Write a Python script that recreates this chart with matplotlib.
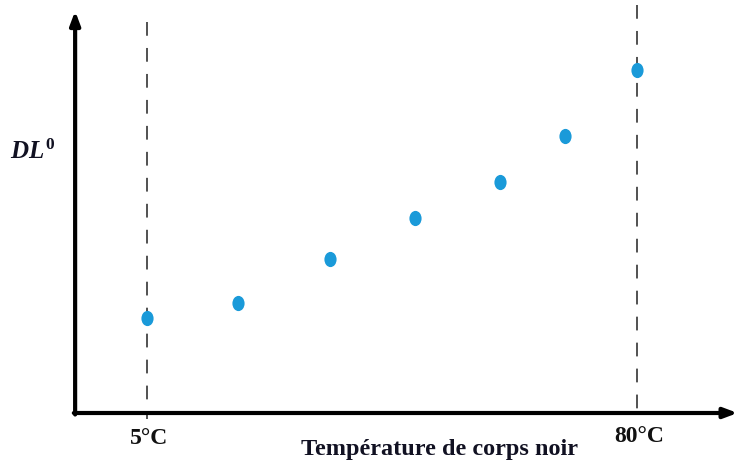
import numpy as np
import matplotlib
matplotlib.use('Agg')
import matplotlib.pyplot as plt
from matplotlib.path import Path
from matplotlib.transforms import Affine2D

# Data (arbitrary units on the y axis)
temps = [5, 19, 33, 46, 59, 69, 80]          # °C
dl0 = [0.95, 1.10, 1.54, 1.95, 2.31, 2.77, 3.43]
ref_temps = [5, 80]
ref_labels = ['5°C', '80°C']

plt.rcParams['mathtext.fontset'] = 'custom'
plt.rcParams['mathtext.it'] = 'Liberation Serif:italic:bold'
plt.rcParams['mathtext.bf'] = 'Liberation Serif:bold'
plt.rcParams['mathtext.rm'] = 'Liberation Serif:bold'

fig = plt.figure(figsize=(7.38, 4.66), dpi=100)
ax = fig.add_axes([0, 0, 1, 1])
# 1 °C ~ 6.53 px, 1 unit of DL0 ~ 100 px
ax.set_xlim(-17.5, 95.46)
ax.set_ylim(-0.53, 4.13)
ax.axis('off')

# axes with arrows
x0, y0 = -6.0, 0.0
ax.annotate('', xy=(95.4, y0), xytext=(x0 - 0.2, y0),
            arrowprops=dict(arrowstyle='-|>,head_length=0.8,head_width=0.3',
                            lw=3, color='black', shrinkA=0, shrinkB=0))
ax.annotate('', xy=(x0, 4.02), xytext=(x0, y0 - 0.015),
            arrowprops=dict(arrowstyle='-|>,head_length=0.8,head_width=0.3',
                            lw=3, color='black', shrinkA=0, shrinkB=0))

# dashed reference lines (drawn top-down so the pattern starts with a dash)
ax.plot([ref_temps[0]] * 2, [3.91, -0.06], ls=(0, (9, 8)), lw=1.1, color='#222222')
ax.plot([ref_temps[1]] * 2, [4.08, -0.06], ls=(0, (9, 8)), lw=1.1, color='#222222')

# points (slightly tall ellipses)
ell = Path.unit_circle().transformed(Affine2D().scale(0.8, 1.0))
ax.scatter(temps, dl0, marker=ell, s=120, color='#1a9ad9', zorder=3, linewidths=0)

# labels
ax.text(ref_temps[0] + 0.3, -0.25, ref_labels[0], ha='center', va='center',
        fontsize=17, fontweight='bold', family='Liberation Serif', color='#111111')
ax.text(ref_temps[1] + 0.3, -0.24, ref_labels[1], ha='center', va='center',
        fontsize=17, fontweight='bold', family='Liberation Serif', color='#111111')
ax.text(49.8, -0.36, 'Température de corps noir', ha='center', va='center',
        fontsize=17.5, fontweight='bold', family='Liberation Serif', color='#111122')
ax.text(-15.9, 2.61, r'$\mathit{DL}^{\mathbf{0}}$', ha='left', va='center',
        fontsize=18, color='#111122')

plt.savefig('out.png', dpi=100)
